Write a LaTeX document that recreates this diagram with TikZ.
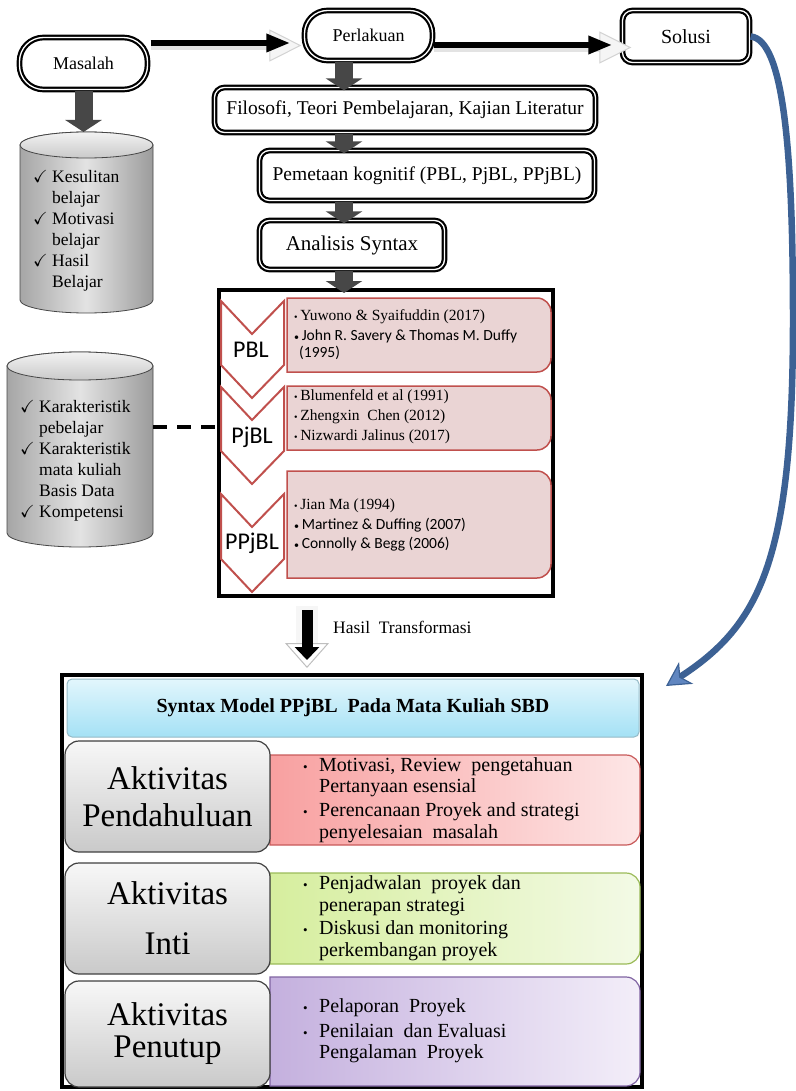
\documentclass[tikz,border=0pt]{standalone}
\usepackage{fontspec}
\usepackage{amssymb}
\setmainfont{Liberation Serif}
\newfontfamily\calib{Carlito}
\usetikzlibrary{arrows.meta}
\usetikzlibrary{calc}
\definecolor{chevred}{RGB}{192,80,77}
\definecolor{pinkfill}{RGB}{234,212,212}
\definecolor{solblue}{RGB}{60,97,148}
\definecolor{solbluelight}{RGB}{96,134,192}
\definecolor{redA}{RGB}{248,160,160}
\definecolor{redB}{RGB}{253,230,230}
\definecolor{redline}{RGB}{200,90,90}
\definecolor{greenA}{RGB}{214,238,158}
\definecolor{greenB}{RGB}{243,250,230}
\definecolor{greenline}{RGB}{155,187,89}
\definecolor{purpA}{RGB}{196,176,222}
\definecolor{purpB}{RGB}{243,238,249}
\definecolor{purpline}{RGB}{128,100,162}
\definecolor{cyanA}{RGB}{226,246,252}
\definecolor{cyanB}{RGB}{164,225,245}
\def\rad{14}
% straight left side, rounded right corners
\newcommand{\halfround}[5]{\draw[#1] (#2,#3) -- ({#4-\rad},#3) arc (-90:0:\rad) -- (#4,{#5-\rad}) arc (0:90:\rad) -- (#2,#5) -- cycle;}
\newcommand{\dotb}{{\fontsize{10}{10}\selectfont\textbullet}\,}
\newcommand{\bull}{\makebox[16pt][l]{\fontsize{13}{13}\selectfont\textbullet}}
\newcommand{\chk}{\makebox[19pt][l]{$\checkmark$}}

\begin{document}
\begin{tikzpicture}[x=1pt,y=-1pt]
	\tikzstyle{flowbox} = [draw=black, line width=2.2pt, double=white, double distance=1.3pt, fill=white, rounded corners=10pt, inner sep=0pt, align=center, font=\fontsize{18}{21}\selectfont]
	\tikzstyle{blockarr} = [line width=18pt, black!72, -{Triangle[length=12pt,width=36pt]}]
	\tikzstyle{flowglow} = [line width=9pt, gray!22, -{Triangle[length=32pt,width=32pt,fill=gray!8,color=gray!35,line width=1pt]}]
	\tikzstyle{flowarr} = [line width=6pt, black, -{Triangle[length=24pt,width=17pt]}]
	\tikzstyle{cylbody} = [draw=gray!55!black, line width=0.8pt, left color=gray!70, right color=gray!78, middle color=gray!22]
	\tikzstyle{cyltop} = [draw=gray!55!black, line width=0.8pt, top color=gray!10, bottom color=gray!42]
	\tikzstyle{cyltext} = [anchor=west, align=left, inner sep=0pt, font=\fontsize{17.5}{21}\selectfont]
	\tikzstyle{dashline} = [line width=4pt, dash pattern=on 14pt off 10pt]
	\tikzstyle{chevron} = [draw=chevred, line width=2pt, fill=white]
	\tikzstyle{refbox} = [draw=chevred, line width=1.5pt, fill=pinkfill]
	\tikzstyle{modlabel} = [inner sep=0pt, font=\calib\fontsize{24}{24}\selectfont]
	\tikzstyle{reftext} = [anchor=west, align=left, inner sep=0pt, font=\fontsize{15.5}{17}\selectfont]
	\tikzstyle{actbox} = [draw=black!75, line width=1.2pt, rounded corners=14pt, top color=gray!6, bottom color=gray!42, align=center, inner sep=0pt, minimum width=205pt, font=\fontsize{33}{37}\selectfont]
	\tikzstyle{acttext} = [anchor=west, align=left, inner sep=0pt, font=\fontsize{20}{21.5}\selectfont]
	\tikzstyle{bluearr} = [line width=6.5pt, solblue, -{Stealth[length=24pt,width=26pt,inset=7pt,fill=solbluelight,line width=1.2pt]}]

	\useasboundingbox (0,0) rectangle (795,1091);

	%%Flow boxes
	\node[flowbox, rounded corners=24pt, minimum width=128pt, minimum height=52pt] (masalah) at (83.5,63.5) {Masalah};
	\node[flowbox, rounded corners=23pt, minimum width=128pt, minimum height=50pt] (perl) at (368.5,35.5) {Perlakuan};
	\node[flowbox, minimum width=127pt, minimum height=52pt, font=\fontsize{20}{24}\selectfont] (solusi) at (686,36.5) {Solusi};
	\node[flowbox, minimum width=381pt, minimum height=45pt, font=\fontsize{19.5}{22}\selectfont] (filo) at (405,110) {Filosofi, Teori Pembelajaran, Kajian Literatur};
	\node[flowbox, minimum width=335pt, minimum height=50pt, font=\fontsize{19.5}{22}\selectfont] (peta) at (427,175.5) {Pemetaan kognitif (PBL, PjBL, PPjBL)};
	\node[flowbox, minimum width=185pt, minimum height=49pt, font=\fontsize{21}{24}\selectfont] (syntax) at (352,245) {Analisis Syntax};
	\node[draw, line width=4pt, minimum width=334pt, minimum height=306pt] (panel) at (386,443) {};
	\node[draw, line width=4pt, minimum width=580pt, minimum height=412pt] (outer) at (352,881) {};

	%%Cylinders
	\draw[cylbody] (20,145) -- (20,300) arc (180:0:66.5 and 13) -- (153,145) arc (0:-180:66.5 and 13) -- cycle;
	\draw[cyltop] (86.5,145) ellipse (66.5 and 13);
	\draw[cylbody] (7,366) -- (7,533) arc (180:0:73 and 14) -- (153,366) arc (0:-180:73 and 14) -- cycle;
	\draw[cyltop] (80,366) ellipse (73 and 14);
	\node[cyltext] (probs) at (33,230.5) {\chk Kesulitan\\\hspace*{19pt}belajar\\\chk Motivasi\\\hspace*{19pt}belajar\\\chk Hasil\\\hspace*{19pt}Belajar};
	\node[cyltext] (chars) at (20,460.5) {\chk Karakteristik\\\hspace*{19pt}pebelajar\\\chk Karakteristik\\\hspace*{19pt}mata kuliah\\\hspace*{19pt}Basis Data\\\chk Kompetensi};
	\coordinate (cyl1top) at (83.5,132);
	\coordinate (cyl2side) at (153,427);

	%%Arrows of the flow
	\coordinate (axis) at (344,0);
	\draw[blockarr] (masalah) -- (cyl1top);
	\draw[blockarr, shorten >=-4pt] (axis |- perl.south) -- (axis |- filo.north);
	\draw[blockarr, shorten >=-4pt] (axis |- filo.south) -- (axis |- peta.north);
	\draw[blockarr, shorten >=-4pt] (axis |- peta.south) -- (axis |- syntax.north);
	\draw[blockarr, shorten >=-5pt] (axis |- syntax.south) -- (axis |- panel.north);
	\draw[flowglow, shorten >=2pt] ($(masalah.east |- perl.west)+(2,10)$) -- ($(perl.west)+(0,10)$);
	\draw[flowarr, shorten >=13pt] ($(masalah.east |- perl.west)+(2,7.5)$) -- ($(perl.west)+(0,7.5)$);
	\draw[flowglow, shorten >=-10pt] ($(perl.east)+(0,12)$) -- ($(perl.east -| solusi.west)+(0,12)$);
	\draw[flowarr, shorten >=9pt] ($(perl.east)+(0,9.5)$) -- ($(perl.east -| solusi.west)+(0,9.5)$);
	\draw[dashline] (cyl2side) -- (cyl2side -| panel.west);

	%%Model chevrons
	\draw[chevron] (221,301) -- (252,334) -- (284,301) -- (284,365) -- (252,398) -- (221,365) -- cycle;
	\draw[chevron] (221,387) -- (252,420) -- (284,387) -- (284,451) -- (252,484) -- (221,451) -- cycle;
	\draw[chevron] (221,494) -- (252,527) -- (284,494) -- (284,559) -- (252,592) -- (221,559) -- cycle;
	\halfround{refbox}{287}{298}{551}{372}
	\halfround{refbox}{287}{386}{551}{450}
	\halfround{refbox}{287}{471}{551}{578}
	\node[modlabel] (pbl) at (251,350) {PBL};
	\node[modlabel] (pjbl) at (252,437) {PjBL};
	\node[modlabel] (ppjbl) at (252,543) {PPjBL};
	\node[reftext] (ref1) at (294,335) {\dotb Yuwono \& Syaifuddin (2017)\\[3pt]{\calib\dotb John R. Savery \& Thomas M. Duffy}\\{\calib\hspace*{5pt}(1995)}};
	\node[reftext] (ref2) at (294,417) {\dotb Blumenfeld et al (1991)\\[3pt]\dotb Zhengxin~ Chen (2012)\\[3pt]\dotb Nizwardi Jalinus (2017)};
	\node[reftext] (ref3) at (294,525) {\dotb Jian Ma (1994)\\[2.5pt]{\calib\dotb Martinez \& Duffing (2007)}\\[2.5pt]{\calib\dotb Connolly \& Begg (2006)}};

	%%Transformation
	\coordinate (tstart) at ($(panel.south west)+(90,0)$);
	\draw[line width=22pt, gray!7, shorten <=8pt, shorten >=5pt, -{Triangle[length=25pt,width=44pt,fill=white,color=gray!50,line width=1pt]}] (tstart) -- (tstart |- outer.north);
	\draw[line width=11pt, black, shorten <=12pt, shorten >=13pt, -{Triangle[length=13pt,width=24pt]}] (tstart) -- (tstart |- outer.north);
	\node[anchor=west, inner sep=0pt, font=\fontsize{17.5}{19}\selectfont] (hasil) at (333,627) {Hasil~ Transformasi};

	%%Syntax table
	\node[draw=cyanB!60!gray, line width=1pt, rounded corners=5pt, top color=cyanA, bottom color=cyanB, minimum width=572pt, minimum height=58pt, font=\bfseries\fontsize{20}{24}\selectfont] (title) at (353,708) {Syntax Model PPjBL~ Pada Mata Kuliah SBD};
	\halfround{draw=redline, line width=1.2pt, left color=redA, right color=redB}{270}{755}{640}{845}
	\halfround{draw=greenline, line width=1.2pt, left color=greenA, right color=greenB}{270}{873}{640}{964}
	\halfround{draw=purpline, line width=1.2pt, left color=purpA, right color=purpB}{270}{977}{640}{1086}
	\node[actbox, minimum height=111pt] (act1) at (167.5,796.5) {Aktivitas\\Pendahuluan};
	\node[actbox, minimum height=111pt] (act2) at (167.5,918.5) {Aktivitas\\[13pt]Inti};
	\node[actbox, minimum height=106pt] (act3) at (167.5,1034) {Aktivitas\\[-5pt]Penutup};
	\node[acttext] (txt1) at (303,800) {\bull Motivasi, Review~ pengetahuan\\\hspace*{16pt}Pertanyaan esensial\\[2.5pt]\bull Perencanaan Proyek and strategi\\\hspace*{16pt}penyelesaian~ masalah};
	\node[acttext] (txt2) at (303,918) {\bull Penjadwalan~ proyek dan\\\hspace*{16pt}penerapan strategi\\[2pt]\bull Diskusi dan monitoring\\\hspace*{16pt}perkembangan proyek};
	\node[acttext] (txt3) at (303,1031) {\bull Pelaporan~ Proyek\\[3pt]\bull Penilaian~ dan Evaluasi\\\hspace*{16pt}Pengalaman~ Proyek};

	%%Back to the solution
	\coordinate (solend) at ($(outer.north east)+(22,13)$);
	\coordinate (solbend) at (793,320);
	\draw[bluearr] (solusi.east) .. controls +(33,3) and +(0,-170) .. (solbend) .. controls +(0,240) and +(94,-61) .. (solend);
\end{tikzpicture}
\end{document}
